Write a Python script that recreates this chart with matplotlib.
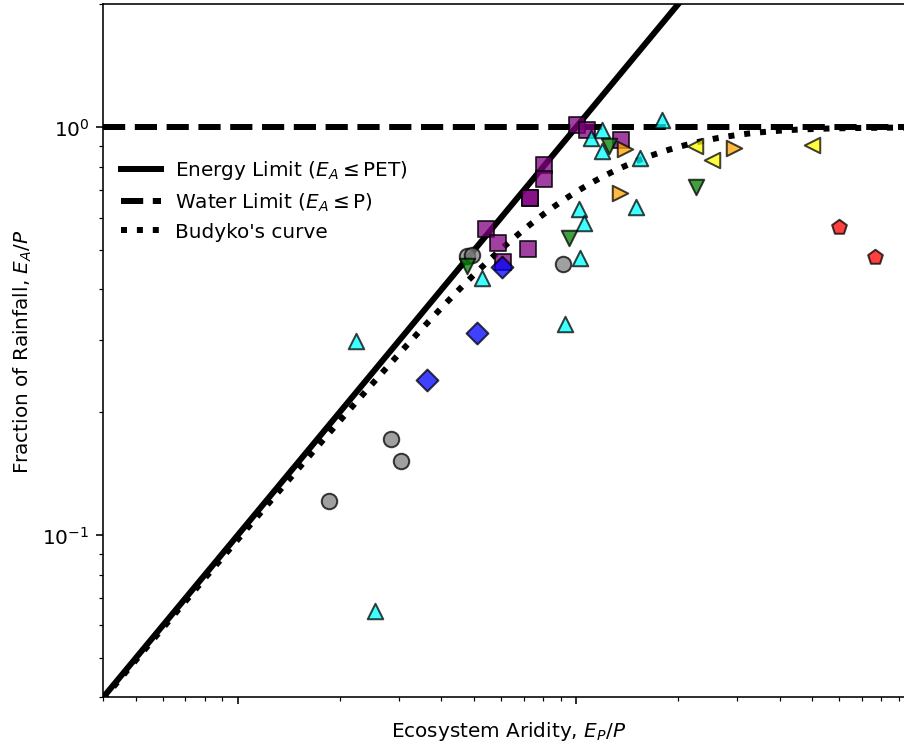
import numpy as np
import matplotlib

matplotlib.use("Agg")
import matplotlib.pyplot as plt
from matplotlib.ticker import NullFormatter


# site values: (E_P/P, E_A/P)
grey_x = [0.476, 0.492, 0.915, 0.284, 0.303, 0.186]
grey_y = [0.482, 0.487, 0.461, 0.172, 0.152, 0.121]

purple_x = [1.007, 1.078, 1.362, 0.802, 0.802, 0.732, 0.732, 0.543, 0.588, 0.719, 0.608]
purple_y = [1.011, 0.987, 0.933, 0.810, 0.745, 0.672, 0.672, 0.564, 0.519, 0.502, 0.466]

cyan_x = [1.797, 1.194, 1.108, 1.194, 1.550, 1.023, 1.058, 1.030, 1.508, 0.527, 0.930, 0.224, 0.255]
cyan_y = [1.044, 0.987, 0.942, 0.874, 0.842, 0.629, 0.583, 0.479, 0.639, 0.426, 0.329, 0.299, 0.065]

blue_x = [0.604, 0.509, 0.362]
blue_y = [0.453, 0.312, 0.240]

green_x = [0.476, 0.951, 1.249, 2.265]
green_y = [0.457, 0.536, 0.898, 0.715]

orange_x = [1.399, 1.352, 2.940]
orange_y = [0.882, 0.691, 0.890]

yellow_x = [2.243, 2.526, 4.990]
yellow_y = [0.898, 0.829, 0.907]

red_x = [5.98, 7.68]
red_y = [0.570, 0.481]

X_LIM = (0.04, 10.0)
Y_LIM = (0.04, 2.0)


def budyko(phi: np.ndarray) -> np.ndarray:
    # Budyko (1974) curve
    return np.sqrt(phi * np.tanh(1.0 / phi) * (1.0 - np.exp(-phi)))


def main() -> None:
    dpi = 144
    fig = plt.figure(figsize=(904.5 / dpi, 744.5 / dpi), dpi=dpi)
    ax = fig.add_axes([0.1142, 0.0628, 0.8966, 0.9305])

    phi = np.logspace(np.log10(X_LIM[0]), np.log10(X_LIM[1]), 500)
    ax.plot(phi, phi, "k-", lw=3, label=r"Energy Limit ($E_A \leq$PET)")
    ax.plot(phi, np.ones_like(phi), "k--", lw=3, label=r"Water Limit ($E_A \leq$P)")
    ax.plot(phi, budyko(phi), "k:", lw=3, label="Budyko's curve")

    groups = [
        (purple_x, purple_y, "purple", "s"),
        (grey_x, grey_y, "grey", "o"),
        (cyan_x, cyan_y, "cyan", "^"),
        (blue_x, blue_y, "blue", "D"),
        (green_x, green_y, "green", "v"),
        (orange_x, orange_y, "orange", ">"),
        (yellow_x, yellow_y, "yellow", "<"),
        (red_x, red_y, "red", "p"),
    ]
    for xs, ys, colour, marker in groups:
        ax.scatter(xs, ys, s=60, c=colour, marker=marker, alpha=0.75,
                   edgecolors="k", linewidths=1, zorder=3)

    ax.set_xscale("log")
    ax.set_yscale("log")
    ax.set_xlim(*X_LIM)
    ax.set_ylim(*Y_LIM)
    ax.xaxis.set_major_formatter(NullFormatter())
    ax.xaxis.set_minor_formatter(NullFormatter())
    ax.set_xlabel(r"Ecosystem Aridity, $E_P/P$")
    ax.set_ylabel(r"Fraction of Rainfall, $E_A/P$")
    ax.legend(loc="upper left", bbox_to_anchor=(0, 0.803), frameon=False,
              labelspacing=0.45, handletextpad=0.7)

    fig.savefig("out.png", dpi=dpi)
    plt.close(fig)


if __name__ == "__main__":
    main()
